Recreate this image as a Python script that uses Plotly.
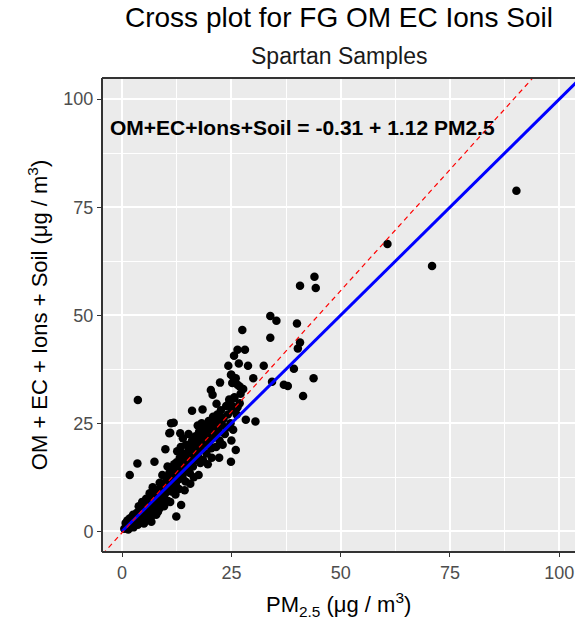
import plotly.graph_objects as go

# Reference data (PM2.5 vs reconstructed mass)
pm25 = [
    90.2, 60.7, 70.9, 3.6, 44.0, 40.7, 44.3, 33.9, 35.3, 27.5, 40.0, 33.9, 40.7, 40.2,
    26.4, 28.1, 25.6, 24.3, 26.7, 28.8, 32.4, 39.3, 43.8, 30.0, 25.0, 26.0, 25.2, 26.4,
    22.4, 20.3, 20.7, 34.3, 37.0, 37.9, 27.7, 27.1, 41.4, 25.6, 24.9, 25.6, 26.9,
    24.5, 25.2, 26.4, 26.9, 28.3, 30.5, 16.0, 18.4, 11.8, 11.0, 26.0, 24.9, 7.4, 9.9,
    3.5, 1.75, 13.5, 12.4, 8.2, 6.7, 13.3, 13.9, 10.8, 11.2,
    1.0, 1.5, 2.0, 2.2, 1.2, 2.8, 3.0, 2.5, 1.8, 3.2, 0.8, 2.6, 0.5, 1.4,
    3.5, 4.0, 4.2, 4.5, 3.8, 5.0, 5.2, 5.5, 4.8, 5.8, 3.3, 4.6, 5.5, 6.0, 5.0, 3.6,
    6.2, 6.5, 6.8, 7.0, 7.2, 7.5, 7.8, 8.0, 8.2, 8.5, 8.8, 6.3, 7.0, 7.6, 8.4, 8.9,
    6.7, 8.0, 8.6, 7.3,
    9.0, 9.3, 9.5, 9.8, 10.0, 10.2, 10.5, 10.8, 11.0, 11.3, 11.5, 11.8, 9.2, 9.6,
    10.4, 11.0, 11.6, 9.9, 10.7, 11.9,
    12.0, 12.3, 12.5, 12.8, 13.0, 13.2, 13.5, 13.8, 14.0, 14.2, 14.5, 14.8, 12.2,
    13.4, 14.6, 12.6, 13.9, 14.3, 12.9, 14.9,
    15.0, 15.3, 15.5, 15.8, 16.0, 16.2, 16.5, 16.8, 17.0, 17.2, 17.5, 17.8, 15.2,
    16.4, 17.6, 15.6, 16.9, 17.3, 15.9, 17.9,
    18.0, 18.3, 18.5, 18.8, 19.0, 19.3, 19.5, 19.8, 20.0, 20.3, 20.5, 20.8, 18.2,
    19.6, 21.0, 18.7, 20.1, 19.1,
    21.2, 21.5, 21.8, 22.0, 22.3, 22.6, 22.9, 23.2, 23.5, 23.8, 21.4, 22.2, 23.0, 21.6,
    24.2, 24.5, 24.8, 25.1, 25.4, 25.7, 24.0, 26.2, 25.0,
    1.3, 2.3, 3.4, 4.3, 4.9, 5.6, 6.1, 6.6, 7.1, 7.7, 8.3, 8.7, 9.4, 9.7, 10.3,
    10.6, 11.2, 11.7, 12.4, 12.7, 13.3, 13.6, 14.1, 14.4, 15.1, 15.4, 16.1, 16.6,
    17.1, 17.7, 18.4, 18.9, 19.4, 19.9, 20.6, 21.1, 21.9, 22.7, 13.1, 11.4, 8.1,
    6.4, 15.7, 17.4, 20.4,
]
reconstructed = [
    78.8, 66.5, 61.4, 30.4, 58.9, 56.8, 56.3, 49.8, 48.7, 46.6, 48.1, 44.8, 43.7, 42.3,
    42.0, 42.0, 40.6, 38.3, 38.8, 38.3, 38.3, 37.6, 35.4, 35.4, 36.2, 35.4, 34.3, 33.9,
    34.4, 32.7, 31.6, 34.6, 33.9, 33.6, 32.9, 31.8, 31.3, 30.8, 36.2, 35.0, 33.5,
    29.6, 29.0, 28.7, 29.6, 25.8, 25.4, 27.9, 28.2, 25.1, 22.8, 18.8, 16.1, 16.1, 19.0,
    15.7, 13.0, 6.1, 3.4, 4.5, 2.2, 22.7, 21.5, 22.7, 25.0,
    0.8, 1.2, 1.6, 2.8, 2.5, 1.5, 3.2, 3.8, 3.0, 2.2, 1.9, 0.9, 0.6, 0.4,
    3.0, 4.5, 2.5, 5.2, 5.8, 4.0, 6.0, 3.2, 2.0, 5.5, 4.2, 6.8, 7.5, 2.8, 1.8, 1.5,
    6.5, 4.8, 7.8, 5.5, 8.5, 6.5, 3.8, 9.0, 7.2, 5.2, 10.0, 8.8, 10.2, 9.4, 8.2, 6.2,
    3.5, 4.5, 11.2, 7.0,
    9.5, 7.5, 11.0, 8.6, 12.5, 10.0, 7.0, 13.5, 11.0, 9.2, 14.2, 12.0, 13.0, 5.8,
    15.0, 6.8, 10.5, 10.8, 11.8, 15.5,
    13.0, 11.0, 16.0, 13.8, 9.8, 17.0, 14.5, 12.5, 18.0, 15.5, 11.5, 16.8, 8.5,
    19.5, 20.0, 18.5, 13.3, 9.5, 15.2, 14.0,
    16.0, 19.0, 13.5, 17.5, 21.0, 15.0, 18.5, 22.0, 16.5, 20.0, 13.0, 19.0, 22.5,
    12.5, 23.0, 11.0, 17.8, 24.5, 20.2, 15.8,
    19.5, 22.0, 16.5, 21.0, 24.0, 18.0, 22.5, 25.5, 20.0, 23.5, 17.0, 26.5, 25.0,
    15.5, 22.0, 23.2, 24.8, 20.5,
    25.0, 19.5, 27.0, 23.5, 21.0, 28.0, 24.5, 26.0, 22.5, 29.0, 23.0, 17.0, 20.0, 29.5,
    27.0, 30.5, 25.0, 28.0, 23.5, 31.0, 24.0, 27.0, 21.0,
    1.7, 2.0, 3.6, 3.8, 5.6, 6.3, 5.9, 7.2, 7.6, 8.1, 9.6, 8.9, 10.3, 9.9, 11.3,
    10.7, 12.6, 13.1, 13.6, 14.4, 15.8, 14.9, 16.2, 17.3, 17.1, 16.6, 18.3, 19.8,
    18.9, 21.2, 20.4, 22.6, 21.6, 23.1, 21.4, 24.1, 25.8, 26.4, 12.1, 11.8, 7.9,
    6.1, 15.2, 17.2, 19.2,
]

fit_intercept = -0.31
fit_slope = 1.12
x_ticks = [0, 25, 50, 75, 100]
y_ticks = [0, 25, 50, 75, 100]
x_range = [-4.6, 103.6]
y_range = [-4.8, 104.9]

title_text = "Cross plot for FG OM EC Ions Soil"
subtitle_text = "Spartan Samples"
equation_text = "OM+EC+Ions+Soil = -0.31 + 1.12 PM2.5"
y_title = "OM + EC + Ions + Soil (μg / m<sup>3</sup>)"
x_title = "PM<sub>2.5</sub> (μg / m<sup>3</sup>)"

fig = go.Figure()
fig.add_trace(go.Scatter(
    x=pm25, y=reconstructed, mode="markers",
    marker=dict(color="black", size=8.5, line=dict(width=0)),
    hoverinfo="skip", showlegend=False,
))
# 1:1 line from origin
line_x = [0, 120]
fig.add_trace(go.Scatter(
    x=line_x, y=line_x, mode="lines",
    line=dict(color="#0000FF", width=3), showlegend=False, hoverinfo="skip",
))
fit_x = [-10, 120]
fig.add_trace(go.Scatter(
    x=fit_x, y=[fit_intercept + fit_slope * v for v in fit_x], mode="lines",
    line=dict(color="#FF0000", width=1.2, dash="5px,4px"), showlegend=False, hoverinfo="skip",
))

axis_common = dict(
    showgrid=True, gridcolor="white", gridwidth=1.6,
    minor=dict(showgrid=True, gridcolor="white", gridwidth=0.7, dtick=12.5),
    zeroline=False, ticks="outside", ticklen=4, tickwidth=1.2, tickcolor="#333333",
    tickfont=dict(family="Liberation Sans, Arial, sans-serif", size=18, color="#4D4D4D"),
    showline=False, fixedrange=True,
)

fig.update_layout(
    width=575, height=620,
    margin=dict(l=102, r=0, t=78, b=68),
    paper_bgcolor="white", plot_bgcolor="#EBEBEB",
    font=dict(family="Liberation Sans, Arial, sans-serif", color="black"),
    xaxis=dict(range=x_range, tickvals=x_ticks, ticktext=[str(t) for t in x_ticks], **axis_common),
    yaxis=dict(range=y_range, tickvals=y_ticks, ticktext=[str(t) for t in y_ticks], **axis_common),
    shapes=[
        dict(type="line", xref="paper", yref="paper", x0=0, x1=0, y0=0, y1=1,
             line=dict(color="#333333", width=2)),
        dict(type="line", xref="paper", yref="paper", x0=0, x1=1.02, y0=1, y1=1,
             line=dict(color="#333333", width=2)),
        dict(type="line", xref="paper", yref="paper", x0=0, x1=1.02, y0=0, y1=0,
             line=dict(color="#333333", width=2)),
    ],
    annotations=[
        dict(text=title_text, xref="paper", yref="paper", x=0.5, y=1.1266,
             xanchor="center", yanchor="middle", showarrow=False,
             font=dict(size=28, color="black")),
        dict(text=subtitle_text, xref="paper", yref="paper", x=0.5, y=1.0464,
             xanchor="center", yanchor="middle", showarrow=False,
             font=dict(size=23, color="#1A1A1A")),
        dict(text="<b>" + equation_text + "</b>", xref="paper", yref="paper", x=0.012, y=0.8966,
             xanchor="left", yanchor="middle", showarrow=False,
             font=dict(size=21, color="black")),
        dict(text=y_title, xref="paper", yref="paper",
             x=-0.135, y=0.5, xanchor="center", yanchor="middle", textangle=-90,
             showarrow=False, font=dict(size=22, color="black")),
        dict(text=x_title, xref="paper", yref="paper",
             x=0.5, y=-0.11, xanchor="center", yanchor="middle",
             showarrow=False, font=dict(size=22, color="black")),
    ],
)

fig.write_html("out.html")
